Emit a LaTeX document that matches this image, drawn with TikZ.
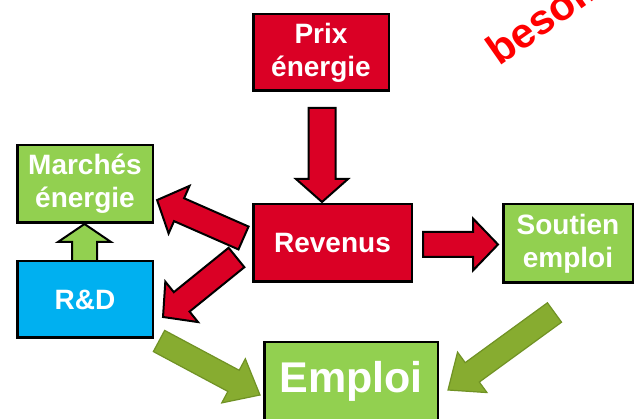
\documentclass[tikz,border=0pt]{standalone}
\usepackage{fontspec}
\setmainfont{Liberation Sans}
\usetikzlibrary{calc}
\pgfdeclarelayer{bg}
\pgfsetlayers{bg,main}
\definecolor{boxred}{RGB}{218,0,37}
\definecolor{boxgreen}{RGB}{146,208,80}
\definecolor{boxblue}{RGB}{0,176,240}
\definecolor{arrgreen}{RGB}{135,172,48}
\definecolor{arrgreenedge}{RGB}{112,146,36}
\definecolor{notered}{RGB}{255,0,0}
% #1 style, #2 from, #3 to, #4 shaft half width, #5 head half width, #6 head length
\newcommand\blockarrow[6]{%
  \path let \p1=(#2), \p2=(#3),
    \n1={atan2(\y2-\y1,\x2-\x1)}, \n2={veclen(\x2-\x1,\y2-\y1)} in
    \pgfextra{\xdef\baang{\n1}\xdef\balen{\n2}\xdef\bax{\x1}\xdef\bay{\y1}};
  \pgfmathsetmacro\baang{\baang}%
  \pgfmathsetmacro\balen{\balen}%
  \pgfmathsetmacro\bab{\balen-#6}%
  \draw[#1, shift={(\bax,\bay)}, rotate=\baang]
    (0pt,-#4pt) -- (\bab pt,-#4pt) -- (\bab pt,-#5pt) -- (\balen pt,0pt)
    -- (\bab pt,#5pt) -- (\bab pt,#4pt) -- (0pt,#4pt) -- cycle;
}
\tikzset{
  box/.style={draw=black, line width=2.5pt, text=white, align=center,
    inner sep=0pt, font=\fontsize{28}{33}\selectfont\bfseries},
  redarrow/.style={fill=boxred, draw=black, line width=2pt, line join=miter},
  greenarrow/.style={fill=arrgreen, draw=arrgreenedge, line width=1.2pt, line join=miter},
  smallarrow/.style={fill=boxgreen, draw=black, line width=2pt, line join=miter},
}
\begin{document}
\begin{tikzpicture}[x=1pt,y=-1pt]
\useasboundingbox (0,0) rectangle (635,419);
\clip (0,0) rectangle (635,419);
\begin{pgfonlayer}{bg}
\fill[white] (0,0) rectangle (635,419);
\end{pgfonlayer}

\node[box, fill=boxred, minimum width=135.5pt, minimum height=76.5pt] (prix) at (321,52.5) {Prix\\énergie};
\node[box, fill=boxred, minimum width=158.5pt, minimum height=77.5pt] (rev) at (332.5,243) {Revenus};
\node[box, fill=boxgreen, minimum width=135.5pt, minimum height=77.5pt] (march) at (85,184) {Marchés\\énergie};
\node[box, fill=boxblue, minimum width=135.5pt, minimum height=76.5pt] (rd) at (85,299.5) {R\&D};
\node[box, fill=boxgreen, minimum width=129.5pt, minimum height=78.5pt] (sout) at (568,243.5) {Soutien\\emploi};
\node[box, fill=boxgreen, minimum width=173.5pt, minimum height=78pt,
  font=\fontsize{43}{43}\selectfont\bfseries] (emploi) at (351,381) {Emploi};

\node[font=\fontsize{42}{42}\selectfont\bfseries, text=notered, rotate=35,
  anchor=base west, inner sep=0pt] (beso) at (499,67) {besoins};

\coordinate (a1s) at (322,108);
\coordinate (a1e) at ($(rev.north)+(-10.5,-1)$);
\coordinate (a2s) at (423,244.5);
\coordinate (a2e) at ($(sout.west)+(-4,1)$);
\coordinate (a3s) at (243.5,238);
\coordinate (a3e) at (157,200);
\coordinate (a4s) at (236.5,257.5);
\coordinate (a4e) at (163,317);
\coordinate (a5s) at (84.5,262);
\coordinate (a5e) at ($(march.south)+(-0.5,0)$);
\coordinate (a6s) at (159,341);
\coordinate (a6e) at (260,395);
\coordinate (a7s) at (554.5,312.5);
\coordinate (a7e) at (448,390);

\begin{pgfonlayer}{bg}
\blockarrow{redarrow}{a1s}{a1e}{13.5}{26}{23}
\blockarrow{redarrow}{a2s}{a2e}{12.5}{26}{25}
\blockarrow{redarrow}{a3s}{a3e}{12.5}{26}{24}
\blockarrow{redarrow}{a4s}{a4e}{12.5}{26}{24}
\blockarrow{smallarrow}{a5s}{a5e}{12.5}{26.5}{18}
\blockarrow{greenarrow}{a6s}{a6e}{12}{25}{30}
\blockarrow{greenarrow}{a7s}{a7e}{12}{25}{30}
\end{pgfonlayer}
\end{tikzpicture}
\end{document}
